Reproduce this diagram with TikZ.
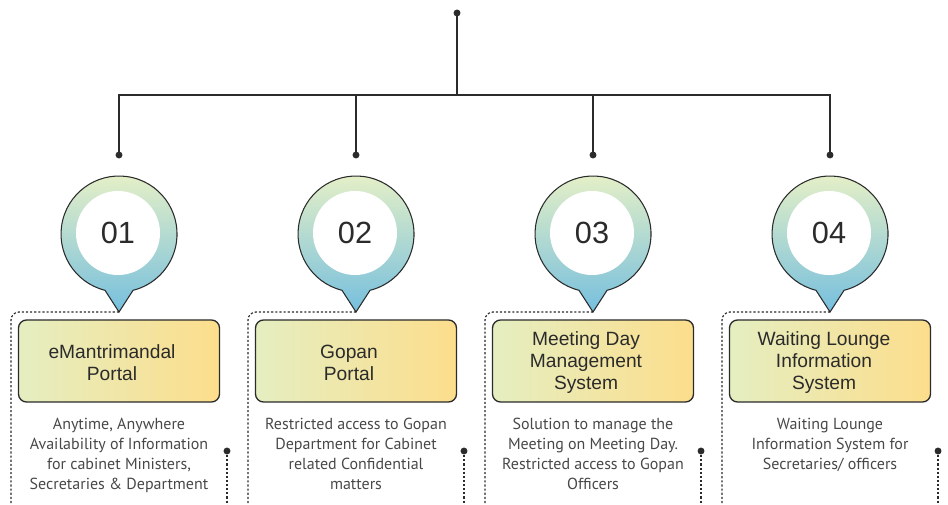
\documentclass[tikz,border=0pt]{standalone}
\usepackage{fontspec}
\setmainfont{Liberation Sans}
\newfontfamily\descfont{PT Sans}

\definecolor{inkDark}{RGB}{43,43,43}
\definecolor{descGray}{RGB}{72,72,72}
\definecolor{pinTop}{RGB}{232,241,198}
\definecolor{pinBot}{RGB}{118,191,222}
\definecolor{boxLeft}{RGB}{229,238,193}
\definecolor{boxRight}{RGB}{252,222,140}

\tikzset{every picture/.style={line width=0.75pt}}
\tikzset{
  dot/.style={circle, fill=inkDark, inner sep=0pt, minimum size=5.2pt},
  treeline/.style={draw=inkDark, line width=1.1pt},
  dotline/.style={draw=inkDark, line width=0.9pt, dash pattern=on 1.6pt off 1.5pt},
  pinbody/.style={draw=inkDark, line width=0.8pt, top color=pinTop, bottom color=pinBot},
  numdisc/.style={circle, fill=white, inner sep=0pt, minimum size=63pt, text=inkDark, font=\fontsize{23}{27}\selectfont},
  panelbox/.style={draw=inkDark, line width=1pt, rounded corners=6pt, left color=boxLeft, right color=boxRight, minimum width=150.75pt, minimum height=61.5pt},
  paneltitle/.style={inner sep=0.75pt, align=center, text=inkDark, font=\fontsize{14.4}{16.5}\selectfont},
  paneldesc/.style={anchor=north, inner sep=0pt, align=center, text=descGray, font=\descfont\fontsize{12}{15}\selectfont}
}

\begin{document}
\begin{tikzpicture}[x=0.75pt,y=0.75pt,yscale=-1,xscale=1]
\useasboundingbox (0,0) rectangle (948,505); %set diagram to 948 x 505

%Tree dots
\draw (457,13) node (dtop) [dot] {};
\draw (119,155) node (d1) [dot] {};
\draw (356,155) node (d2) [dot] {};
\draw (593,155) node (d3) [dot] {};
\draw (830,155) node (d4) [dot] {};
\coordinate (hub) at (457,95);

%Straight Lines
\draw [treeline] (dtop.center) -- (hub) ;
\draw [treeline] (d1.center) -- (d1 |- hub) -- (d4 |- hub) -- (d4.center) ;
\draw [treeline] (d2.center) -- (d2 |- hub) ;
\draw [treeline] (d3.center) -- (d3 |- hub) ;

%Pin 01
\coordinate (tip1) at (119,312);
\draw [pinbody] (tip1) -- (105,290.3) arc [start angle=104, end angle=436, radius=58] -- cycle ;
\draw (118,233) node (n1) [numdisc] {01};
%Pin 02
\coordinate (tip2) at (356,312);
\draw [pinbody] (tip2) -- (342,290.3) arc [start angle=104, end angle=436, radius=58] -- cycle ;
\draw (355,233) node (n2) [numdisc] {02};
%Pin 03
\coordinate (tip3) at (593,312);
\draw [pinbody] (tip3) -- (579,290.3) arc [start angle=104, end angle=436, radius=58] -- cycle ;
\draw (592,233) node (n3) [numdisc] {03};
%Pin 04
\coordinate (tip4) at (830,312);
\draw [pinbody] (tip4) -- (816,290.3) arc [start angle=104, end angle=436, radius=58] -- cycle ;
\draw (829,233) node (n4) [numdisc] {04};

%Dashed frames
\coordinate (lb1) at (11,505);
\coordinate (lb2) at (248,505);
\coordinate (lb3) at (485,505);
\coordinate (lb4) at (722,505);
\draw [dotline, rounded corners=6pt] (tip1) -| (lb1) ;
\draw [dotline, rounded corners=6pt] (tip2) -| (lb2) ;
\draw [dotline, rounded corners=6pt] (tip3) -| (lb3) ;
\draw [dotline, rounded corners=6pt] (tip4) -| (lb4) ;
\draw (227,451) node (r1) [dot] {};
\draw (464,451) node (r2) [dot] {};
\draw (701,451) node (r3) [dot] {};
\draw (938,451) node (r4) [dot] {};
\coordinate (rb1) at (227,505);
\coordinate (rb2) at (464,505);
\coordinate (rb3) at (701,505);
\coordinate (rb4) at (938,505);
\draw [dotline] (r1.center) -- (rb1) ;
\draw [dotline] (r2.center) -- (rb2) ;
\draw [dotline] (r3.center) -- (rb3) ;
\draw [dotline] (r4.center) -- (rb4) ;

%Boxes
\draw (119,361) node (box1) [panelbox] {};
\draw (356,361) node (box2) [panelbox] {};
\draw (593,361) node (box3) [panelbox] {};
\draw (830,361) node (box4) [panelbox] {};

% Text Node
\draw (112,363) node (ttl1) [paneltitle] {eMantrimandal\\Portal};
% Text Node
\draw (349,363) node (ttl2) [paneltitle] {Gopan\\Portal};
% Text Node
\draw (586,363) node (ttl3) [paneltitle] {Meeting Day\\Management\\System};
% Text Node
\draw (824,363) node (ttl4) [paneltitle] {Waiting Lounge\\Information\\System};

% Text Node
\draw (119,418) node (desc1) [paneldesc] {Anytime, Anywhere\\Availability of Information\\for cabinet Ministers,\\Secretaries \& Department};
% Text Node
\draw (356,418) node (desc2) [paneldesc] {Restricted access to Gopan\\Department for Cabinet\\related Confidential\\matters};
% Text Node
\draw (593,418) node (desc3) [paneldesc] {Solution to manage the\\Meeting on Meeting Day.\\Restricted access to Gopan\\Officers};
% Text Node
\draw (830,418) node (desc4) [paneldesc] {Waiting Lounge\\Information System for\\Secretaries/ officers};

\end{tikzpicture}
\end{document}
